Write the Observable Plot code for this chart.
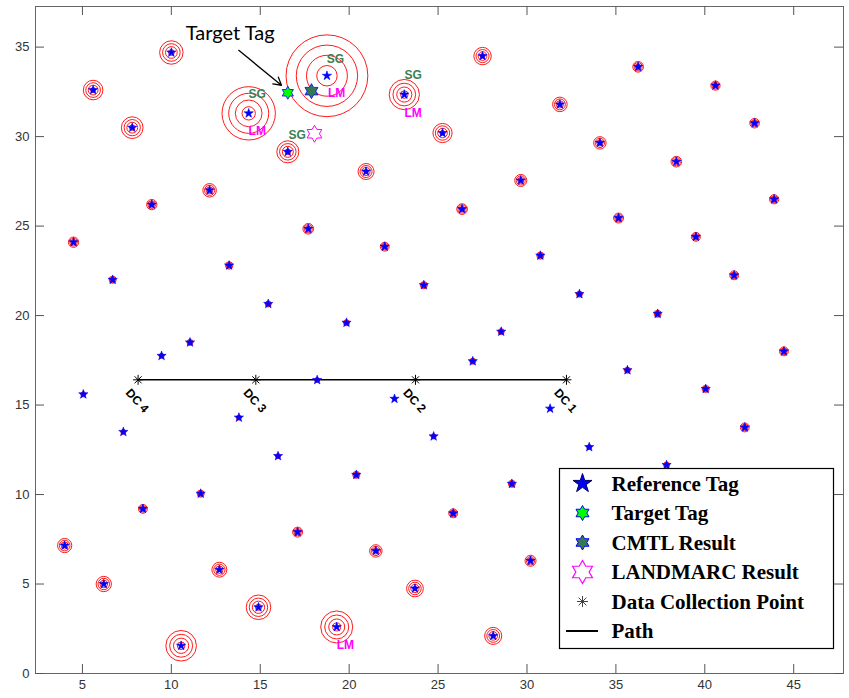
<!DOCTYPE html>
<html>
<head>
<meta charset="utf-8">
<script src="https://cdn.jsdelivr.net/npm/d3@7"></script>
<script src="https://cdn.jsdelivr.net/npm/@observablehq/plot@0.6"></script>
<style>
  html, body { margin: 0; padding: 0; background: #fff; }
  #chart { width: 849px; height: 698px; }
</style>
</head>
<body>
<div id="chart"></div>
<script>
// ---------- data ----------
const xTicks = [5, 10, 15, 20, 25, 30, 35, 40, 45];
const yTicks = [0, 5, 10, 15, 20, 25, 30, 35];

// reference tags: [x, y, outer ring radius (m)]
const refTags = [
  [10.0, 34.7, 0.66], [5.6, 32.6, 0.55], [7.8, 30.5, 0.61], [14.35, 31.3, 1.50],
  [16.55, 29.15, 0.62], [8.9, 26.2, 0.29], [12.15, 27.0, 0.38], [4.5, 24.1, 0.29],
  [18.75, 33.4, 2.30], [23.1, 32.35, 0.85], [25.25, 30.2, 0.54], [27.5, 34.5, 0.49],
  [31.85, 31.8, 0.41], [20.95, 28.05, 0.45], [29.65, 27.55, 0.34], [26.35, 25.95, 0.30],
  [17.7, 24.85, 0.30], [36.25, 33.9, 0.30], [40.6, 32.85, 0.26], [42.8, 30.75, 0.27],
  [34.1, 29.65, 0.35], [38.4, 28.6, 0.30], [35.15, 25.45, 0.28], [43.9, 26.5, 0.26],
  [39.5, 24.4, 0.25], [6.7, 22.0, 0.20], [13.25, 22.8, 0.21], [15.45, 20.65, 0.17],
  [11.05, 18.5, 0.17], [9.45, 17.75, 0.14], [5.05, 15.6, 0.14], [7.3, 13.5, 0.14],
  [13.8, 14.3, 0.14], [16.0, 12.15, 0.14], [22.0, 23.85, 0.25], [30.75, 23.35, 0.20],
  [24.2, 21.7, 0.20], [19.85, 19.6, 0.17], [28.55, 19.1, 0.17], [26.95, 17.45, 0.17],
  [18.2, 16.4, 0.14], [22.55, 15.35, 0.11], [24.75, 13.25, 0.14], [31.3, 14.8, 0.11],
  [41.65, 22.25, 0.25], [32.95, 21.2, 0.17], [37.35, 20.1, 0.20], [44.45, 18.0, 0.25],
  [35.65, 16.95, 0.17], [40.05, 15.9, 0.20], [42.25, 13.75, 0.25], [33.5, 12.65, 0.14],
  [37.85, 11.65, 0.17], [4.0, 7.15, 0.40], [6.2, 5.0, 0.43], [8.4, 9.2, 0.25],
  [11.65, 10.05, 0.20], [12.7, 5.8, 0.42], [10.55, 1.55, 0.86], [14.9, 3.7, 0.69],
  [20.4, 11.1, 0.20], [29.15, 10.6, 0.20], [25.85, 8.95, 0.25], [17.1, 7.9, 0.28],
  [21.5, 6.85, 0.35], [30.2, 6.3, 0.31], [23.7, 4.75, 0.47], [19.3, 2.6, 0.90],
  [28.1, 2.1, 0.48]
];
const targetTag = [[16.55, 32.45]];
const cmtlResult = [[17.88, 32.54]];
const landmarcResult = [[18.05, 30.16]];

// data collection points: [label, x, y]
const dcPoints = [["DC 4", 8.13, 16.41], ["DC 3", 14.75, 16.41], ["DC 2", 23.73, 16.41], ["DC 1", 32.22, 16.41]];

// SG / LM labels: [text, x, y]
const methodLabels = [
  ["SG", 19.23, 34.31], ["LM", 19.29, 32.4],
  ["SG", 14.83, 32.36], ["LM", 14.83, 30.29],
  ["SG", 17.07, 30.1],
  ["SG", 23.6, 33.41], ["LM", 23.6, 31.33],
  ["LM", 19.79, 1.56]
];

const annotationText = [["Target Tag", 13.31, 35.75]];
const annotationArrow = [[13.79, 34.82, 16.19, 32.87]];

const legendLabels = ["Reference Tag", "Target Tag", "CMTL Result", "LANDMARC Result", "Data Collection Point", "Path"];

// ---------- layout ----------
const W = 849, H = 698;
const mL = 35, mR = 6, mT = 6, mB = 25;
const innerW = W - mL - mR, innerH = H - mT - mB;
const xDomain = [2.36, 47.8], yDomain = [0, 37.27];
const pxPerM = innerW / (xDomain[1] - xDomain[0]);

const rings = refTags.flatMap(([x, y, R]) => [1, 2, 3, 4].map(k => ({x, y, r: R * k / 4 * pxPerM})));

// custom symbols
const hexagram = {
  draw(ctx, size) {
    const R = Math.sqrt(size / Math.PI), ri = R / Math.sqrt(3);
    for (let i = 0; i < 12; i++) {
      const a = -Math.PI / 2 + i * Math.PI / 6, rr = i % 2 ? ri : R;
      const px = rr * Math.cos(a), py = rr * Math.sin(a);
      if (i) ctx.lineTo(px, py); else ctx.moveTo(px, py);
    }
    ctx.closePath();
  }
};
const asterisk8 = {
  draw(ctx, size) {
    const R = Math.sqrt(size / Math.PI), d = R * Math.SQRT1_2;
    ctx.moveTo(-R, 0); ctx.lineTo(R, 0);
    ctx.moveTo(0, -R); ctx.lineTo(0, R);
    ctx.moveTo(-d, -d); ctx.lineTo(d, d);
    ctx.moveTo(-d, d); ctx.lineTo(d, -d);
  }
};

const sgColor = "#3a8052", lmColor = "#ff00ff", cmtlColor = "#357a4e";
const tickColor = "#555";

const plot = Plot.plot({
  width: W, height: H,
  marginLeft: mL, marginRight: mR, marginTop: mT, marginBottom: mB,
  style: {fontFamily: "'Liberation Sans', Arial, sans-serif", fontSize: "13px", color: "#333", background: "#fff"},
  x: {domain: xDomain, ticks: xTicks, tickSize: 0, tickPadding: 6, label: null, tickFormat: d => String(d)},
  y: {domain: yDomain, ticks: yTicks, tickSize: 0, tickPadding: 6, label: null, tickFormat: d => String(d)},
  r: {type: "identity"},
  marks: [
    Plot.dot(rings, {x: "x", y: "y", r: "r", stroke: "red", fill: "none", strokeWidth: 0.9}),
    Plot.line(dcPoints, {x: d => d[1], y: d => d[2], stroke: "black", strokeWidth: 1.6}),
    Plot.dot(dcPoints, {x: d => d[1], y: d => d[2], symbol: asterisk8, r: 5, fill: "none", stroke: "black", strokeWidth: 1}),
    Plot.text(dcPoints, {x: d => d[1], y: d => d[2], text: d => d[0], rotate: 48, dx: -1, dy: 21,
      fontSize: 12, fontWeight: "bold", fill: "black", textAnchor: "middle"}),
    Plot.dot(refTags, {x: d => d[0], y: d => d[1], symbol: "star", r: 2.9, fill: "blue", stroke: "blue", strokeWidth: 0.6}),
    Plot.dot(targetTag, {x: d => d[0], y: d => d[1], symbol: hexagram, r: 6.5, fill: "#00ff00", stroke: "blue", strokeWidth: 0.8}),
    Plot.dot(cmtlResult, {x: d => d[0], y: d => d[1], symbol: hexagram, r: 7.5, fill: cmtlColor, stroke: "blue", strokeWidth: 0.8}),
    Plot.dot(landmarcResult, {x: d => d[0], y: d => d[1], symbol: hexagram, r: 8.5, fill: "none", stroke: lmColor, strokeWidth: 1}),
    Plot.text(methodLabels, {x: d => d[1], y: d => d[2], text: d => d[0], fontSize: 12, fontWeight: "bold",
      fill: d => d[0] === "SG" ? sgColor : lmColor, textAnchor: "middle"}),
    Plot.text(annotationText, {x: d => d[1], y: d => d[2], text: d => d[0], fontSize: 20, fontFamily: "Lato, 'Open Sans', sans-serif", fill: "black", textAnchor: "middle"}),
    Plot.arrow(annotationArrow, {x1: d => d[0], y1: d => d[1], x2: d => d[2], y2: d => d[3], stroke: "black", strokeWidth: 1.3, headLength: 10}),
    Plot.frame({stroke: "#666", strokeWidth: 1}),
    Plot.ruleX(xTicks, {insetTop: innerH - 9, stroke: tickColor}),
    Plot.ruleX(xTicks, {insetBottom: innerH - 9, stroke: tickColor}),
    Plot.ruleY(yTicks, {insetRight: innerW - 9, stroke: tickColor}),
    Plot.ruleY(yTicks, {insetLeft: innerW - 9, stroke: tickColor})
  ]
});

// ---------- legend (inside the axes, lower right) ----------
const svg = d3.select(plot);
const lg = svg.append("g").attr("text-anchor", "start");
const lgX = 559.5, lgY = 468.5, lgW = 274, lgH = 180;
lg.append("rect").attr("x", lgX).attr("y", lgY).attr("width", lgW).attr("height", lgH)
  .attr("fill", "white").attr("stroke", "black").attr("stroke-width", 1.2);
const symX = 582.5, textX = 611.5, row0 = 483.5, rowStep = 29.5;
const symDefs = [
  {type: d3.symbolStar, size: 10 * 10 / 0.8908, fill: "blue", stroke: "#000060", sw: 1},
  {type: hexagram, size: Math.PI * 7.5 * 7.5, fill: "#00ff00", stroke: "blue", sw: 1},
  {type: hexagram, size: Math.PI * 7.5 * 7.5, fill: cmtlColor, stroke: "blue", sw: 1},
  {type: hexagram, size: Math.PI * 11.5 * 11.5, fill: "none", stroke: lmColor, sw: 1.2},
  {type: asterisk8, size: Math.PI * 5.5 * 5.5, fill: "none", stroke: "#444", sw: 1},
  null
];
legendLabels.forEach((label, i) => {
  const cy = row0 + i * rowStep;
  const s = symDefs[i];
  if (s) {
    lg.append("path").attr("transform", `translate(${symX},${cy})`)
      .attr("d", d3.symbol().type(s.type).size(s.size)())
      .attr("fill", s.fill).attr("stroke", s.stroke).attr("stroke-width", s.sw);
  } else {
    lg.append("line").attr("x1", 566).attr("x2", 598).attr("y1", cy).attr("y2", cy)
      .attr("stroke", "black").attr("stroke-width", 2);
  }
  lg.append("text").attr("x", textX).attr("y", cy + 7).text(label)
    .attr("text-anchor", "start")
    .attr("font-family", "'Liberation Serif', 'Times New Roman', serif")
    .attr("font-weight", "bold").attr("font-size", 21).attr("fill", "black");
});

document.getElementById("chart").appendChild(plot);
</script>
</body>
</html>
